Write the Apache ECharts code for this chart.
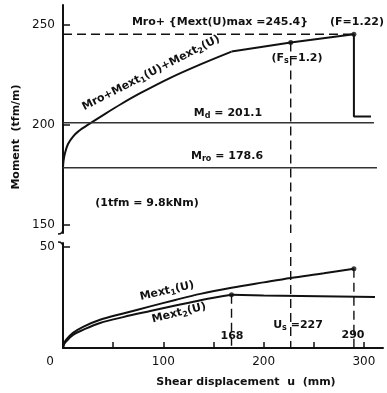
<!DOCTYPE html>
<html><head><meta charset="utf-8">
<script src="https://cdn.jsdelivr.net/npm/echarts@6/dist/echarts.min.js"></script>
<style>html,body{margin:0;padding:0;background:#fff}#c{width:387px;height:393px}</style>
</head><body><div id="c"></div>
<script>
// ---- data ----
const uTotal = [0, 0.5, 2, 5, 10, 15, 27, 42, 58, 77, 107, 137, 168, 227, 290];
const mTotal = [178.6, 182, 186, 190.5, 194.2, 196.7, 200.8, 205.6, 210.5, 215.9, 223.6, 230.3, 236.7, 241.3, 245.4];
const uDrop = [290, 290, 307];
const mDrop = [245.4, 204.2, 204.2];
const uExt1 = [0, 1, 3, 10, 20, 37, 60, 87, 112, 137, 168, 200, 227, 260, 290];
const mExt1 = [0, 2.2, 4, 7.5, 10.5, 14, 17.1, 20.6, 23.8, 26.8, 29.8, 32.5, 34.7, 37, 39.3];
const uExt2 = [0, 1, 3, 10, 20, 37, 60, 87, 112, 137, 168, 200, 311];
const mExt2 = [0, 1.8, 3.2, 6.5, 9, 12.4, 15.3, 18.3, 21, 23.7, 26.4, 26, 25.3];
const Md = 201.1, Mro = 178.6, Mmax = 245.4;
const uS = 227, uF = 290, uKink = 168;
const uMdEnd = 310, uMroEnd = 313;
const xTicks = [0, 50, 100, 150, 200, 250, 300];
const xLabels = [0, 100, 200, 300];
const yUpperTicks = [150, 200, 250];
const yLowerTicks = [50];

// ---- helpers ----
const zip = (a, b) => a.map((v, i) => [v, b[i]]);
const at = (us, ms, u) => ms[us.indexOf(u)];
const upTo = (pts, u) => pts.filter(p => p[0] <= u);
const from = (pts, u) => pts.filter(p => p[0] >= u);
const FONT = 'DejaVu Sans';
const BLACK = '#111';

const chart = echarts.init(document.getElementById('c'), null, {renderer: 'canvas'});

const X_MIN = 0, X_MAX = 319;
const UP_MIN = 146, UP_MAX = 260, LO_MIN = 0, LO_MAX = 52;

function lineS(data, grid, opts) {
  return Object.assign({
    type: 'line', data: data, xAxisIndex: grid, yAxisIndex: grid,
    symbol: 'none', silent: true, animation: false,
    lineStyle: {color: BLACK, width: 1.6}
  }, opts || {});
}
const dashed = {color: BLACK, width: 1.4, type: [9, 5]};
const curve = {color: BLACK, width: 2};

const total = zip(uTotal, mTotal), ext1 = zip(uExt1, mExt1), ext2 = zip(uExt2, mExt2);

const series = [
  lineS(upTo(total, uKink), 0, {lineStyle: curve, smooth: 0.35}),
  lineS(from(total, uKink), 0, {lineStyle: curve}),
  lineS(zip(uDrop, mDrop), 0, {lineStyle: curve}),
  lineS([[0, Md], [uMdEnd, Md]], 0, {lineStyle: {color: '#333', width: 1.5}}),
  lineS([[0, Mro], [uMroEnd, Mro]], 0, {lineStyle: {color: '#333', width: 1.5}}),
  lineS([[0, Mmax], [uF, Mmax]], 0, {lineStyle: dashed}),
  lineS([[uS, at(uTotal, mTotal, uS)], [uS, UP_MIN]], 0, {lineStyle: dashed}),
  {type: 'scatter', xAxisIndex: 0, yAxisIndex: 0, symbolSize: 5, itemStyle: {color: BLACK}, silent: true, animation: false,
   data: [[uF, Mmax], [uS, at(uTotal, mTotal, uS)]]},
  lineS(ext1, 1, {lineStyle: curve, smooth: 0.35}),
  lineS(upTo(ext2, uKink), 1, {lineStyle: curve, smooth: 0.35}),
  lineS(from(ext2, uKink), 1, {lineStyle: curve}),
  lineS([[uS, LO_MAX], [uS, 0]], 1, {lineStyle: dashed}),
  lineS([[uKink, at(uExt2, mExt2, uKink)], [uKink, 0]], 1, {lineStyle: dashed}),
  lineS([[uF, at(uExt1, mExt1, uF)], [uF, 0]], 1, {lineStyle: dashed}),
  {type: 'scatter', xAxisIndex: 1, yAxisIndex: 1, symbolSize: 5, itemStyle: {color: BLACK}, silent: true, animation: false,
   data: [[uKink, at(uExt2, mExt2, uKink)], [uF, at(uExt1, mExt1, uF)]]}
];

const axisLine = {show: true, onZero: false, lineStyle: {color: BLACK, width: 2}};
const lab = {color: BLACK, fontFamily: FONT, fontSize: 12};

const option = {
  backgroundColor: '#fff',
  animation: false,
  grid: [
    {left: 63, width: 320, top: 5, height: 228},
    {left: 63, width: 320, top: 243, height: 105}
  ],
  xAxis: [
    {type: 'value', gridIndex: 0, min: X_MIN, max: X_MAX, show: false},
    {type: 'value', gridIndex: 1, min: X_MIN, max: X_MAX, interval: 50,
     axisLine: axisLine, splitLine: {show: false},
     axisTick: {show: true, inside: true, length: 6, lineStyle: {color: BLACK, width: 1.5}, customValues: xTicks},
     axisLabel: Object.assign({}, lab, {margin: 8, customValues: xLabels,
       formatter: v => v === 0 ? '{z|0}' : String(v),
       rich: {z: {fontFamily: FONT, fontSize: 12, color: BLACK, padding: [0, 26, 0, 0]}}})}
  ],
  yAxis: [
    {type: 'value', gridIndex: 0, min: UP_MIN, max: UP_MAX,
     axisLine: axisLine, splitLine: {show: false},
     axisTick: {show: true, inside: true, length: 7, lineStyle: {color: BLACK, width: 1.5}, customValues: yUpperTicks},
     axisLabel: Object.assign({}, lab, {margin: 8, customValues: yUpperTicks})},
    {type: 'value', gridIndex: 1, min: LO_MIN, max: LO_MAX,
     axisLine: axisLine, splitLine: {show: false},
     axisTick: {show: true, inside: true, length: 7, lineStyle: {color: BLACK, width: 1.5}, customValues: yLowerTicks},
     axisLabel: Object.assign({}, lab, {margin: 8, customValues: yLowerTicks})}
  ],
  series: series
};
chart.setOption(option);

// ---- annotations ----
const sub = {fontFamily: FONT, fontSize: 8, fontWeight: 'bold', fill: BLACK, lineHeight: 6, verticalAlign: 'bottom'};
const base = {fontFamily: FONT, fontSize: 11, fontWeight: 'bold', fill: BLACK, lineHeight: 14};
function txt(text, x, y, rot, align, size) {
  return {
    type: 'text', x: x, y: y, rotation: (rot || 0) * Math.PI / 180, silent: true,
    style: {
      text: text, textAlign: align || 'center', textVerticalAlign: 'middle',
      fontFamily: FONT, fontSize: size || 11, fontWeight: 'bold', fill: BLACK,
      rich: {s: sub, b: Object.assign({}, base, {fontSize: size || 11})}
    }
  };
}
const pO = chart.convertToPixel({gridIndex: 1}, [0, 0]);
const axX = pO[0];
const upBottom = chart.convertToPixel({gridIndex: 0}, [0, UP_MIN])[1];
const loTop = chart.convertToPixel({gridIndex: 1}, [0, LO_MAX])[1];

chart.setOption({
  graphic: [
    txt('Moment  (tfm/m)', 16, 137, 90, 'center', 11),
    txt('Shear displacement  u  (mm)', 246, 382, 0, 'center', 11),
    txt('{b|Mro+ {Mext(U)}max =245.4}', 220, 22, 0, 'center', 11),
    txt('{b|(F=1.22)}', 357, 22, 0, 'center', 11),
    txt('{b|(F}{s|s}{b|=1.2)}', 297, 58, 0, 'center', 11),
    txt('{b|M}{s|d}{b| = 201.1}', 228, 113, 0, 'center', 11),
    txt('{b|M}{s|ro}{b| = 178.6}', 227, 156, 0, 'center', 11),
    txt('{b|(1tfm = 9.8kNm)}', 147, 203, 0, 'center', 11),
    txt('{b|Mro+Mext}{s|1}{b|(U)+Mext}{s|2}{b|(U)}', 151, 73, 27, 'center', 11),
    txt('{b|Mext}{s|1}{b|(U)}', 167, 291, 13, 'center', 11),
    txt('{b|Mext}{s|2}{b|(U)}', 179, 313, 14, 'center', 11),
    txt('{b|168}', 232, 336, 0, 'center', 11),
    txt('{b|U}{s|s}{b| =227}', 298, 325, 0, 'center', 11),
    txt('{b|290}', 353, 335, 0, 'center', 11),
    {type: 'bezierCurve', silent: true,
     shape: {x1: axX, y1: upBottom - 4, x2: axX - 5, y2: upBottom + 1, cpx1: axX, cpy1: upBottom + 1},
     style: {stroke: BLACK, lineWidth: 1.5, fill: null}},
    {type: 'bezierCurve', silent: true,
     shape: {x1: axX, y1: loTop + 4, x2: axX - 5, y2: loTop - 1, cpx1: axX, cpy1: loTop - 1},
     style: {stroke: BLACK, lineWidth: 1.5, fill: null}}
  ]
});
</script>
</body></html>
